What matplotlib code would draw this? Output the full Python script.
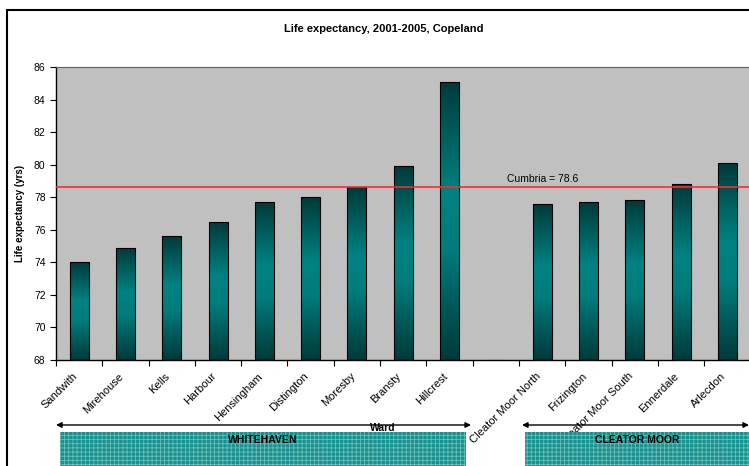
import numpy as np
import matplotlib
matplotlib.use("Agg")
import matplotlib.pyplot as plt
from matplotlib.colors import LinearSegmentedColormap
from matplotlib.patches import Rectangle, FancyArrowPatch

plt.rcParams['font.family'] = ['Liberation Sans', 'DejaVu Sans']
plt.rcParams['hatch.linewidth'] = 0.6

wards = ["Sandwith", "Mirehouse", "Kells", "Harbour", "Hensingham", "Distington",
         "Moresby", "Bransty", "Hillcrest", "", "Cleator Moor North", "Frizington",
         "Cleator Moor South", "Ennerdale", "Arlecdon"]
life_exp = [74.0, 74.9, 75.6, 76.5, 77.7, 78.0, 78.6, 79.9, 85.1, np.nan,
            77.6, 77.7, 77.8, 78.8, 80.1]
cumbria = 78.6

W, H = 749, 466
fig = plt.figure(figsize=(W / 100, H / 100), dpi=100)
ax = fig.add_axes([56 / W, (H - 360) / H, (W - 56) / W + 0.002, 293 / H])
ax.set_facecolor("#c0c0c0")

ymin, ymax = 68, 86
x = np.arange(len(wards))
bw = 0.41

# teal bars shaded dark-light-dark from top to bottom
cmap = LinearSegmentedColormap.from_list(
    "teal", ["#003a3a", "#005e5e", "#008282", "#007c7c", "#005a5a", "#003a3a"])
grad = np.linspace(0, 1, 256).reshape(-1, 1)
bars = ax.bar(x, np.nan_to_num(np.array(life_exp) - ymin), bottom=ymin, width=bw,
              color="none", edgecolor="black", linewidth=0.8, zorder=3)
for b, v in zip(bars, life_exp):
    if np.isnan(v):
        continue
    im = ax.imshow(grad, cmap=cmap, aspect="auto", zorder=2,
                   extent=[b.get_x(), b.get_x() + bw, ymin, v])
    im.set_clip_path(b)

ax.axhline(cumbria, color="#ff2a2a", lw=1.2, zorder=4)
ax.text(10, cumbria + 0.2, f"Cumbria = {cumbria}", ha="center", va="bottom",
        fontsize=7.5, zorder=5)

ax.set_xlim(-0.5, len(wards) - 0.5)
ax.set_ylim(ymin, ymax)
ax.set_yticks(np.arange(68, 87, 2))
# rotated labels sit a little left of the bar centres
ax.set_xticks(x - 0.15)
ax.set_xticklabels(wards, rotation=45, ha="right", rotation_mode="anchor", fontsize=8)
ax.set_xticks(np.arange(-0.5, len(wards), 1), minor=True)
ax.tick_params(axis="x", which="major", length=0, pad=8)
ax.tick_params(axis="x", which="minor", length=4, width=0.8, direction="out")
ax.tick_params(axis="y", length=4, width=0.8, labelsize=7.5, direction="out")
for s in ["left", "bottom"]:
    ax.spines[s].set_linewidth(1.0)
for s in ["top", "right"]:
    ax.spines[s].set_color("#606060")
ax.set_ylabel("Life expectancy (yrs)", fontsize=7, fontweight="bold", labelpad=6)

fig.text(384 / W, 1 - 29 / H, "Life expectancy, 2001-2005, Copeland",
         ha="center", va="center", fontsize=8, fontweight="bold")

# outer chart frame
fig.add_artist(Rectangle((7 / W, -0.1), 1.0, 1 - 10 / H + 0.1, fill=False,
                         lw=1.5, edgecolor="black", transform=fig.transFigure))

# town groups under the ward labels
def fx(px):
    return px / W

def fy(py):
    return 1 - py / H

groups = [("WHITEHAVEN", 56, 471, 60, 466), ("CLEATOR MOOR", 522, 749, 525, 752)]
for name, a0, a1, r0, r1 in groups:
    fig.add_artist(FancyArrowPatch((fx(a0), fy(425)), (fx(a1), fy(425)),
                                   arrowstyle="<|-|>", mutation_scale=8, lw=1.0,
                                   color="black", transform=fig.transFigure,
                                   shrinkA=0, shrinkB=0))
    fig.add_artist(Rectangle((fx(r0), -0.05), fx(r1) - fx(r0), fy(432) + 0.05,
                             facecolor="#17938f", edgecolor="#6cbcb8", hatch="++++",
                             lw=0, transform=fig.transFigure))
    fig.text(fx((r0 + min(r1, 749)) / 2), fy(440), name, ha="center", va="center",
             fontsize=7.5, fontweight="bold")

fig.text(fx(383), fy(428), "Ward", ha="center", va="center", fontsize=7.5,
         fontweight="bold")

fig.savefig("out.png", dpi=100)
